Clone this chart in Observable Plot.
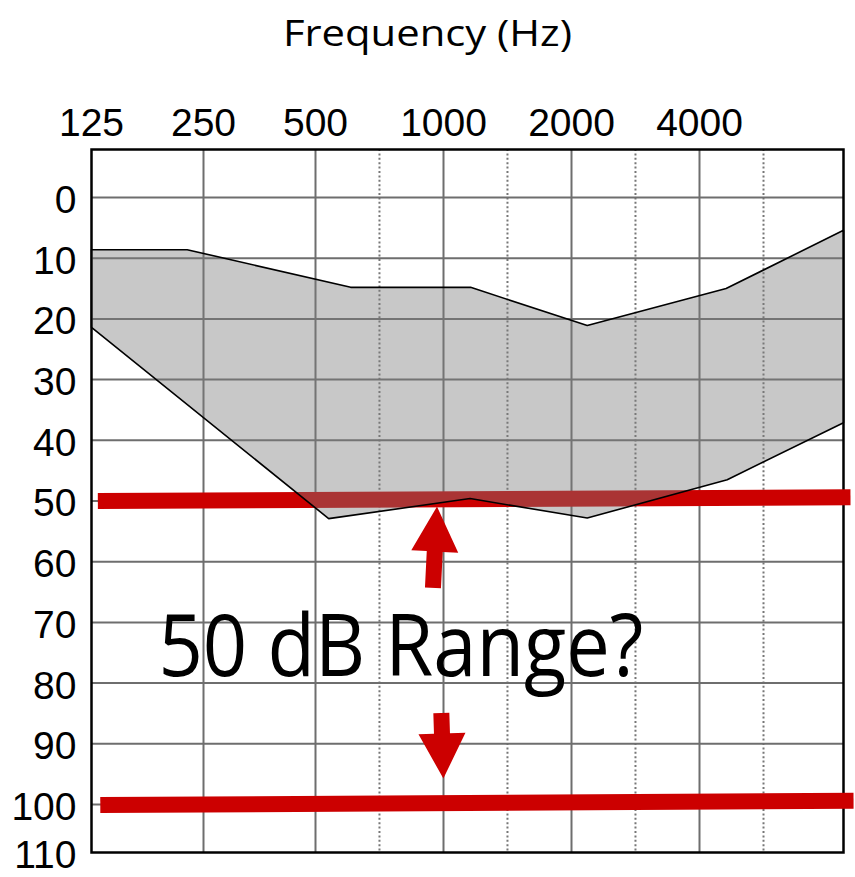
<!DOCTYPE html>
<html>
<head>
<meta charset="utf-8">
<script src="https://cdn.jsdelivr.net/npm/d3@7"></script>
<script src="https://cdn.jsdelivr.net/npm/@observablehq/plot@0.6"></script>
<style>
  html, body { margin: 0; padding: 0; background: white; }
  #chart { width: 855px; height: 877px; }
</style>
</head>
<body>
<div id="chart"></div>
<script>
// ---- data ----
const titleText = ["Frequency (Hz)"];
const xTickValues = [125, 250, 500, 1000, 2000, 4000];
const octaveGrid = [250, 500, 1000, 2000, 4000];
const halfOctaveGrid = [707, 1414, 2828, 5657];
const yTickValues = [0, 10, 20, 30, 40, 50, 60, 70, 80, 90, 100, 110];
const dbGrid = [0, 10, 20, 30, 40, 50, 60, 70, 80, 90, 100];

// shaded range: upper boundary (left -> right) and lower boundary (left -> right)
const upperFreq = [125, 226, 605, 1158, 2178, 4620, 8724];
const upperDb   = [8.6, 8.6, 14.8, 14.8, 21.1, 15.0, 5.4];
const lowerFreq = [125, 537, 1155, 2178, 4648, 8724];
const lowerDb   = [21.4, 52.9, 49.6, 52.8, 46.5, 37.1];

// red reference lines
const redStartFreq = [130, 132];
const redStartDb   = [50.0, 100.1];
const redEndFreq   = [9060, 9212];
const redEndDb     = [49.4, 99.4];

// block arrows (tail -> tip)
const arrowTailFreq = [947, 991];
const arrowTailDb   = [64.4, 85.0];
const arrowTipFreq  = [968, 1002];
const arrowTipDb    = [51.0, 95.8];

// annotation
const noteText = ["50 dB Range?"];
const noteFreq = [794];
const noteDb = [78.75];

// ---- build ----
const outline = [
  ...upperFreq.map((f, i) => ({f, db: upperDb[i]})),
  ...lowerFreq.map((f, i) => ({f, db: lowerDb[i]})).reverse()
];
outline.push(outline[0]);

const redLines = redStartFreq.map((f, i) => ({x1: f, y1: redStartDb[i], x2: redEndFreq[i], y2: redEndDb[i]}));
const notes = noteText.map((t, i) => ({t, f: noteFreq[i], db: noteDb[i]}));

const RED = "#cc0000";

function blockArrows(index, scales) {
  const g = d3.create("svg:g").attr("aria-label", "arrows").attr("fill", RED);
  const shaft = 16, headW = 47, headL = 45;
  arrowTailFreq.forEach((_, i) => {
    const x0 = scales.x(arrowTailFreq[i]), y0 = scales.y(arrowTailDb[i]);
    const x1 = scales.x(arrowTipFreq[i]), y1 = scales.y(arrowTipDb[i]);
    const len = Math.hypot(x1 - x0, y1 - y0);
    const ux = (x1 - x0) / len, uy = (y1 - y0) / len;
    const nx = -uy, ny = ux;
    const bx = x1 - ux * headL, by = y1 - uy * headL;
    const pts = [
      [x0 + nx * shaft / 2, y0 + ny * shaft / 2],
      [bx + nx * shaft / 2, by + ny * shaft / 2],
      [bx + nx * headW / 2, by + ny * headW / 2],
      [x1, y1],
      [bx - nx * headW / 2, by - ny * headW / 2],
      [bx - nx * shaft / 2, by - ny * shaft / 2],
      [x0 - nx * shaft / 2, y0 - ny * shaft / 2]
    ];
    g.append("path").attr("d", "M" + pts.map(p => p.join(",")).join("L") + "Z");
  });
  return g.node();
}

const chart = Plot.plot({
  width: 855,
  height: 877,
  marginTop: 149,
  marginRight: 12,
  marginBottom: 25,
  marginLeft: 91,
  x: {type: "log", domain: [125, 250, 500, 8724], range: [91, 203, 315, 843]},
  y: {type: "linear", domain: [-10, 0, 100, 110], range: [149, 197, 804, 852]},
  style: {fontFamily: "'Liberation Sans', Arial, sans-serif", fontSize: "39px", color: "black", background: "white"},
  marks: [
    Plot.ruleX(halfOctaveGrid, {stroke: "#777", strokeWidth: 2, strokeDasharray: "2,2.4"}),
    Plot.ruleX(octaveGrid, {stroke: "#6e6e6e", strokeWidth: 2}),
    Plot.ruleY(dbGrid, {stroke: "#6e6e6e", strokeWidth: 2}),
    Plot.frame({stroke: "black", strokeWidth: 2.5}),
    Plot.link(redLines, {x1: "x1", y1: "y1", x2: "x2", y2: "y2", stroke: RED, strokeWidth: 16, strokeLinecap: "butt"}),
    Plot.line(outline, {x: "f", y: "db", fill: "#7c7c7c", fillOpacity: 0.42, stroke: "black", strokeWidth: 1.6, strokeLinejoin: "miter", curve: "linear"}),
    blockArrows,
    Plot.axisX({anchor: "top", ticks: xTickValues, tickFormat: d => String(d), tickSize: 0, tickPadding: 14, label: null, fontSize: 39}),
    Plot.axisY({anchor: "left", ticks: yTickValues, tickFormat: d => String(d), tickSize: 0, tickPadding: 15, label: null, fontSize: 39, dy: 3}),
    Plot.text(titleText, {frameAnchor: "top", dx: -40, dy: -104, lineAnchor: "bottom", fontFamily: "'Open Sans', sans-serif", fontSize: 36, fill: "black"}),
    Plot.text(notes, {x: "f", y: "db", text: "t", lineAnchor: "bottom", textAnchor: "middle", fontFamily: "'Open Sans', sans-serif", fontSize: 86, fill: "black"})
  ]
});

const fitWidths = new Map([[titleText[0], 289], [noteText[0], 485]]);
d3.select(chart).selectAll("text").each(function() {
  const w = fitWidths.get(this.textContent);
  if (w) d3.select(this).attr("textLength", w).attr("lengthAdjust", "spacingAndGlyphs");
});

document.getElementById("chart").appendChild(chart);
</script>
</body>
</html>
